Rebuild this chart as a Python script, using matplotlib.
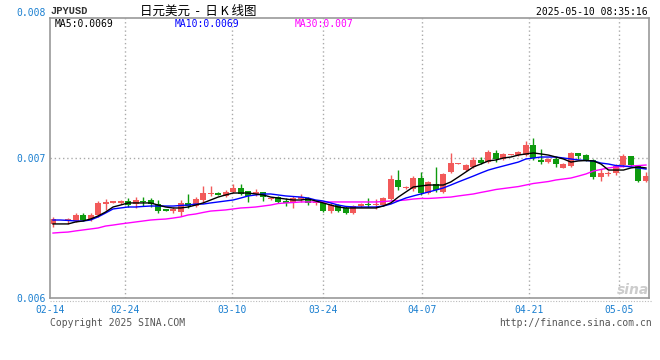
import numpy as np
import matplotlib.pyplot as plt
from matplotlib.lines import Line2D

nan = np.nan

# daily candles, JPY/USD (slot 1 has no candle)
open_ = [0.006529, nan, 0.006550, 0.006550, 0.006593, 0.006564, 0.006593, 0.006671, 0.006682, 0.006679,
         0.006693, 0.006671, 0.006693, 0.006700, 0.006671, 0.006629, 0.006625, 0.006614, 0.006679, 0.006657,
         0.006700, 0.006746, 0.006750, 0.006729, 0.006757, 0.006786, 0.006764, 0.006743, 0.006757, 0.006707,
         0.006721, 0.006693, 0.006686, 0.006707, 0.006714, 0.006682, 0.006679, 0.006621, 0.006664, 0.006643,
         0.006607, 0.006657, 0.006671, 0.006664, 0.006664, 0.006707, 0.006843, 0.006786, 0.006779, 0.006857,
         0.006750, 0.006814, 0.006757, 0.006900, 0.006957, 0.006914, 0.006936, 0.006986, 0.006971, 0.007036,
         0.006993, 0.007021, 0.007021, 0.007021, 0.007093, 0.006979, 0.006971, 0.006993, 0.006929, 0.006943,
         0.007036, 0.007021, 0.006986, 0.006864, 0.006889, 0.006893, 0.006950, 0.007014, 0.006943, 0.006836]
high = [0.006579, nan, 0.006571, 0.006607, 0.006607, 0.006607, 0.006693, 0.006707, 0.006693, 0.006700,
        0.006714, 0.006721, 0.006721, 0.006714, 0.006700, 0.006636, 0.006650, 0.006700, 0.006743, 0.006721,
        0.006800, 0.006800, 0.006757, 0.006771, 0.006814, 0.006814, 0.006764, 0.006779, 0.006757, 0.006721,
        0.006729, 0.006714, 0.006729, 0.006743, 0.006721, 0.006700, 0.006679, 0.006679, 0.006671, 0.006657,
        0.006664, 0.006679, 0.006714, 0.006707, 0.006721, 0.006879, 0.006914, 0.006800, 0.006871, 0.006900,
        0.006836, 0.006936, 0.006893, 0.007036, 0.006966, 0.006957, 0.007007, 0.007007, 0.007057, 0.007057,
        0.007036, 0.007029, 0.007050, 0.007121, 0.007143, 0.007064, 0.007000, 0.007007, 0.006964, 0.007043,
        0.007036, 0.007029, 0.006993, 0.006921, 0.006907, 0.006957, 0.007029, 0.007014, 0.006950, 0.006900]
low = [0.006507, nan, 0.006529, 0.006543, 0.006550, 0.006550, 0.006579, 0.006629, 0.006679, 0.006671,
       0.006650, 0.006643, 0.006657, 0.006650, 0.006607, 0.006621, 0.006607, 0.006586, 0.006643, 0.006650,
       0.006679, 0.006729, 0.006736, 0.006721, 0.006750, 0.006736, 0.006686, 0.006729, 0.006693, 0.006700,
       0.006679, 0.006657, 0.006643, 0.006686, 0.006664, 0.006664, 0.006614, 0.006607, 0.006614, 0.006600,
       0.006600, 0.006650, 0.006650, 0.006636, 0.006657, 0.006700, 0.006771, 0.006779, 0.006764, 0.006736,
       0.006743, 0.006757, 0.006750, 0.006893, 0.006957, 0.006907, 0.006929, 0.006957, 0.006964, 0.006971,
       0.006986, 0.007021, 0.007014, 0.007014, 0.006986, 0.006957, 0.006964, 0.006936, 0.006929, 0.006936,
       0.006993, 0.006979, 0.006850, 0.006836, 0.006871, 0.006879, 0.006936, 0.006943, 0.006829, 0.006829]
close = [0.006564, nan, 0.006564, 0.006593, 0.006557, 0.006593, 0.006679, 0.006686, 0.006689, 0.006693,
         0.006664, 0.006700, 0.006689, 0.006671, 0.006621, 0.006625, 0.006629, 0.006679, 0.006657, 0.006707,
         0.006750, 0.006750, 0.006739, 0.006757, 0.006786, 0.006743, 0.006729, 0.006757, 0.006721, 0.006714,
         0.006686, 0.006679, 0.006714, 0.006721, 0.006679, 0.006686, 0.006621, 0.006664, 0.006621, 0.006607,
         0.006657, 0.006671, 0.006664, 0.006671, 0.006714, 0.006850, 0.006793, 0.006793, 0.006857, 0.006750,
         0.006829, 0.006771, 0.006886, 0.006964, 0.006964, 0.006950, 0.006986, 0.006964, 0.007043, 0.006993,
         0.007029, 0.007029, 0.007043, 0.007093, 0.007000, 0.006975, 0.006993, 0.006957, 0.006957, 0.007036,
         0.007014, 0.006986, 0.006864, 0.006893, 0.006893, 0.006943, 0.007014, 0.006950, 0.006836, 0.006871]

# moving averages as drawn on the chart
ma5 = [0.006529, 0.006529, 0.006529, 0.006543, 0.006550, 0.006564, 0.006586, 0.006614, 0.006650, 0.006664,
       0.006679, 0.006679, 0.006679, 0.006679, 0.006664, 0.006650, 0.006643, 0.006643, 0.006650, 0.006664,
       0.006679, 0.006700, 0.006721, 0.006736, 0.006750, 0.006750, 0.006750, 0.006743, 0.006736, 0.006721,
       0.006714, 0.006707, 0.006700, 0.006700, 0.006707, 0.006693, 0.006679, 0.006664, 0.006650, 0.006643,
       0.006643, 0.006643, 0.006643, 0.006643, 0.006657, 0.006679, 0.006721, 0.006757, 0.006793, 0.006800,
       0.006807, 0.006807, 0.006807, 0.006829, 0.006864, 0.006900, 0.006936, 0.006957, 0.006979, 0.006986,
       0.007000, 0.007007, 0.007021, 0.007029, 0.007036, 0.007029, 0.007021, 0.007007, 0.006993, 0.006971,
       0.006979, 0.006982, 0.006979, 0.006957, 0.006914, 0.006914, 0.006914, 0.006929, 0.006936, 0.006929]
ma10 = [0.006557, 0.006557, 0.006554, 0.006550, 0.006550, 0.006557, 0.006579, 0.006607, 0.006636, 0.006643,
        0.006650, 0.006650, 0.006654, 0.006657, 0.006657, 0.006657, 0.006657, 0.006661, 0.006664, 0.006671,
        0.006671, 0.006679, 0.006686, 0.006693, 0.006700, 0.006714, 0.006729, 0.006736, 0.006743, 0.006743,
        0.006736, 0.006729, 0.006725, 0.006721, 0.006714, 0.006700, 0.006693, 0.006679, 0.006664, 0.006654,
        0.006650, 0.006650, 0.006650, 0.006650, 0.006657, 0.006671, 0.006693, 0.006714, 0.006729, 0.006743,
        0.006757, 0.006771, 0.006786, 0.006807, 0.006829, 0.006850, 0.006871, 0.006893, 0.006914, 0.006929,
        0.006943, 0.006957, 0.006971, 0.006993, 0.007000, 0.007007, 0.007007, 0.007007, 0.007000, 0.006993,
        0.006986, 0.006982, 0.006979, 0.006964, 0.006957, 0.006946, 0.006943, 0.006936, 0.006929, 0.006921]
ma30 = [0.006464, 0.006468, 0.006471, 0.006479, 0.006486, 0.006493, 0.006500, 0.006514, 0.006521, 0.006529,
        0.006536, 0.006543, 0.006550, 0.006557, 0.006561, 0.006564, 0.006571, 0.006579, 0.006593, 0.006600,
        0.006611, 0.006621, 0.006625, 0.006629, 0.006636, 0.006643, 0.006646, 0.006650, 0.006657, 0.006664,
        0.006675, 0.006679, 0.006682, 0.006686, 0.006686, 0.006686, 0.006686, 0.006686, 0.006686, 0.006686,
        0.006686, 0.006686, 0.006686, 0.006686, 0.006689, 0.006693, 0.006696, 0.006700, 0.006707, 0.006711,
        0.006711, 0.006714, 0.006718, 0.006721, 0.006729, 0.006736, 0.006743, 0.006754, 0.006764, 0.006775,
        0.006782, 0.006789, 0.006796, 0.006807, 0.006818, 0.006825, 0.006832, 0.006843, 0.006850, 0.006857,
        0.006871, 0.006886, 0.006907, 0.006918, 0.006929, 0.006936, 0.006939, 0.006943, 0.006946, 0.006950]

date_labels = ['02-14', '02-24', '03-10', '03-24', '04-07', '04-21', '05-05']
date_pos = [-0.4, 9.6, 23.85, 36.0, 49.15, 63.4, 75.4]
y_ticks = [0.006, 0.007, 0.008]

RED = '#f25a5a'
GREEN = '#0e9a0e'
AXBLUE = '#1a7fd0'
MONO = 'DejaVu Sans Mono'

W, H = 660, 360
fig = plt.figure(figsize=(W / 100, H / 100), dpi=100)
ax = fig.add_axes([50 / W, 62 / H, 599 / W, 280 / H])

o = np.array(open_)
c = np.array(close)
hi = np.array(high)
lo = np.array(low)
x = np.arange(len(o))
ok = ~np.isnan(o)
colors = np.where(c >= o, RED, GREEN)

# wicks, then bodies
ax.vlines(x[ok], lo[ok], hi[ok], colors=colors[ok], lw=1, zorder=2)
min_h = 0.0000105
body_h = np.abs(c - o)
body_b = np.minimum(o, c)
thin = body_h < min_h
body_b = np.where(thin, (o + c) / 2 - min_h / 2, body_b)
body_h = np.where(thin, min_h, body_h)
ax.bar(x[ok], body_h[ok], bottom=body_b[ok], width=0.8, color=colors[ok], lw=0, zorder=2)

ax.plot(x, ma30, color='#ff00ff', lw=1.0, zorder=3)
ax.plot(x, ma10, color='#0000ff', lw=1.0, zorder=3)
ax.plot(x, ma5, color='black', lw=1.0, zorder=3)

ax.set_xlim(-0.4, 79.4)
ax.set_ylim(0.006, 0.008)

ax.set_yticks(y_ticks)
ax.set_yticklabels(['0.006', '0.007', '0.008'])
ax.set_xticks(date_pos)
ax.set_xticklabels(date_labels)
ax.tick_params(length=0, labelsize=7, labelcolor=AXBLUE)
ax.tick_params(axis='y', pad=3)
ax.tick_params(axis='x', pad=5)
for lab in ax.get_xticklabels() + ax.get_yticklabels():
    lab.set_fontfamily(MONO)
ax.get_yticklabels()[2].set_va('bottom')

for p in date_pos[1:]:
    ax.axvline(p, color='#aaaaaa', lw=1, ls=(0, (1, 2)), zorder=1)
ax.axhline(0.007, color='#aaaaaa', lw=1, ls=(0, (1, 2)), zorder=1)

for s in ax.spines.values():
    s.set_color('#999999')
    s.set_linewidth(1.2)

# dotted rule under the plot
fig.add_artist(Line2D([50 / W, 652 / W], [1 - 301 / H, 1 - 301 / H], color='#bbbbbb',
                      lw=0.8, ls=(0, (1, 1.5))))

def px(xp, yp):
    return xp / W, 1 - yp / H

fig.text(*px(51, 11), 'JPYUSD', fontsize=7.5, family='Liberation Mono', weight='bold',
         color='#333333', va='center', ha='left')
fig.text(*px(140, 11), '日元美元  -  日 K 线图', fontsize=9,
         family=['Noto Sans CJK SC', 'DejaVu Sans'], color='black', va='center', ha='left')
fig.text(*px(648, 12), '2025-05-10 08:35:16', fontsize=7, family=MONO, color='black',
         va='center', ha='right')

fig.text(*px(55, 24), 'MA5:0.0069', fontsize=7, family=MONO, color='black', va='center')
fig.text(*px(175, 24), 'MA10:0.0069', fontsize=7, family=MONO, color='#0000ff', va='center')
fig.text(*px(295, 24), 'MA30:0.007', fontsize=7, family=MONO, color='#ff00ff', va='center')

fig.text(*px(50, 323), 'Copyright 2025 SINA.COM', fontsize=7, family=MONO, color='#555555',
         va='center')
fig.text(*px(652, 323), 'http://finance.sina.com.cn', fontsize=7, family=MONO, color='#555555',
         va='center', ha='right')

# faint watermark
fig.text(*px(633, 290), 'sina', fontsize=10, weight='bold', style='italic', color='#cccccc',
         va='center', ha='center', zorder=0)

fig.savefig('out.png', dpi=100)
